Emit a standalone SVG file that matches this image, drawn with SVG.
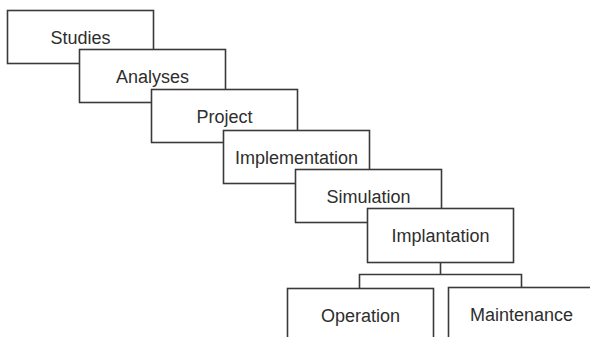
<svg xmlns="http://www.w3.org/2000/svg" width="590" height="337" viewBox="0 0 590 337">
  <style>
    .box { fill: #ffffff; stroke: #3a3a3a; stroke-width: 1.6; }
    .lbl { font-family: "Liberation Sans", Arial, sans-serif; font-size: 18px; fill: #2e2e2e; text-anchor: middle; }
    .wire { fill: none; stroke: #3a3a3a; stroke-width: 1.6; }
  </style>
  <rect x="0" y="0" width="590" height="337" fill="#ffffff"/>

  <!-- cascading phases: each box overlaps the previous one -->
  <g id="studies">
    <rect class="box" x="7.5" y="10.5" width="146" height="53"/>
    <text class="lbl" x="80.5" y="43.5">Studies</text>
  </g>
  <g id="analyses">
    <rect class="box" x="79.5" y="49.5" width="146" height="53"/>
    <text class="lbl" x="152.5" y="82.5">Analyses</text>
  </g>
  <g id="project">
    <rect class="box" x="151.5" y="89.5" width="146" height="53"/>
    <text class="lbl" x="224.5" y="122.5">Project</text>
  </g>
  <g id="implementation">
    <rect class="box" x="223.5" y="130.5" width="146" height="53"/>
    <text class="lbl" x="296.5" y="163.5">Implementation</text>
  </g>
  <g id="simulation">
    <rect class="box" x="295.5" y="169.5" width="146" height="53"/>
    <text class="lbl" x="368.5" y="202.5">Simulation</text>
  </g>
  <g id="implantation">
    <rect class="box" x="367.5" y="208.5" width="146" height="54"/>
    <text class="lbl" x="440.5" y="242">Implantation</text>
  </g>

  <!-- branch from implantation to the two follow-up phases -->
  <g id="connectors">
    <path class="wire" d="M440.5 262.5 V274.5 M359.5 288 V274.5 H521.5 V288"/>
  </g>

  <g id="operation">
    <rect class="box" x="287.5" y="288.5" width="146" height="60"/>
    <text class="lbl" x="360.5" y="322">Operation</text>
  </g>
  <g id="maintenance">
    <rect class="box" x="448.5" y="287.5" width="160" height="60"/>
    <text class="lbl" x="521.5" y="321">Maintenance</text>
  </g>
</svg>
